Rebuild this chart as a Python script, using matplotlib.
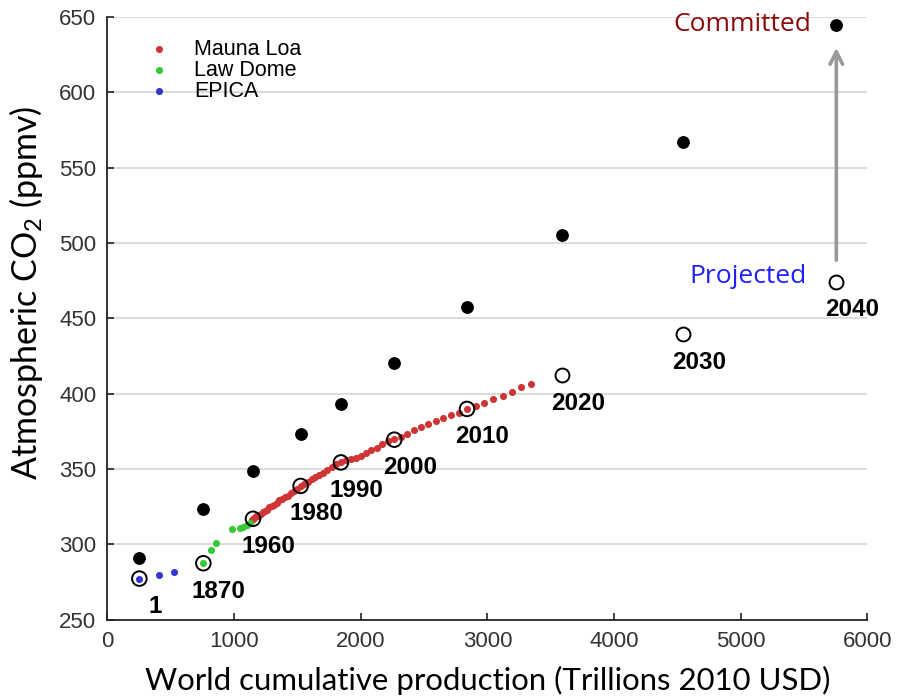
import matplotlib
matplotlib.use("Agg")
import matplotlib.pyplot as plt

# ---------------- data ----------------
# Mauna Loa (annual means) : cumulative production vs CO2
ml_years = list(range(1959, 2018))
ml_x = [1139, 1150, 1161.5, 1173.5, 1186.3, 1199.8, 1214.1, 1229.1, 1244.9, 1261.5,
        1279.0, 1297.5, 1317.0, 1337.5, 1359.0, 1380.8, 1402.8, 1425.8, 1449.8, 1474.8,
        1500.3, 1526.0, 1554.0, 1582.5, 1611.7, 1641.7, 1672.7, 1704.7, 1737.7, 1771.7,
        1807.2, 1844.0, 1881.5, 1920.0, 1959.5, 2000.0, 2041.5, 2084.0, 2127.5, 2172.0,
        2217.5, 2265.0, 2315.5, 2367.0, 2420.0, 2475.0, 2532.0, 2591.0, 2651.5, 2712.5,
        2772.5, 2839.0, 2907.0, 2976.5, 3047.5, 3120.0, 3194.0, 3269.0, 3344.0]
ml_co2 = [315.97, 316.91, 317.64, 318.45, 318.99, 319.62, 320.04, 321.38, 322.16, 323.04,
          324.62, 325.68, 326.32, 327.45, 329.68, 330.18, 331.11, 332.04, 333.83, 335.40,
          336.84, 338.75, 340.11, 341.45, 343.05, 344.65, 346.12, 347.42, 349.19, 351.57,
          353.12, 354.39, 355.61, 356.45, 357.10, 358.83, 360.82, 362.61, 363.73, 366.70,
          368.38, 369.55, 371.14, 373.28, 375.80, 377.52, 379.80, 381.90, 383.79, 385.60,
          387.43, 389.90, 391.65, 393.85, 396.52, 398.65, 400.83, 404.24, 406.55]

# Law Dome
ld_x = [758, 816, 858, 988, 1050, 1074, 1100, 1127]
ld_co2 = [287.4, 296.2, 300.9, 310.3, 310.5, 311.3, 312.8, 314.3]

# EPICA
ep_x = [253, 405, 524]
ep_co2 = [277.2, 279.4, 281.8]

# labelled historical years (open circles)
hist_labels = ["1", "1870", "1960", "1980", "1990", "2000", "2010"]
hist_x = [253, 758, 1150, 1526, 1844, 2265, 2839]
hist_co2 = [277.2, 287.4, 316.9, 338.7, 354.3, 369.4, 389.8]

# projected (open circles)
proj_labels = ["2020", "2030", "2040"]
proj_x = [3590, 4546, 5754]
proj_co2 = [412.3, 439.3, 474.3]

# committed (filled black)
comm_x = [253, 758, 1150, 1526, 1844, 2265, 2839, 3590, 4546, 5754]
comm_co2 = [291.1, 323.2, 348.8, 373.2, 393.3, 420.6, 457.3, 505.2, 566.8, 644.6]

x_ticks = [0, 1000, 2000, 3000, 4000, 5000, 6000]
y_ticks = [250, 300, 350, 400, 450, 500, 550, 600, 650]

# ---------------- figure ----------------
plt.rcParams['mathtext.fontset'] = 'custom'
plt.rcParams['mathtext.rm'] = 'Lato'
plt.rcParams['mathtext.it'] = 'Lato:italic'

fig = plt.figure(figsize=(9.01, 6.99), dpi=100)
ax = fig.add_axes([0.1191, 0.1136, 0.8437, 0.8623])

ax.set_xlim(0, 6000)
ax.set_ylim(250, 650)

for yv in y_ticks[1:]:
    ax.axhline(yv, color='#dcdcdc', lw=1.5, zorder=0)

red = '#d03535'
green = '#35c935'
blue = '#3535d0'

ax.scatter(comm_x, comm_co2, s=85, color='black', zorder=3, linewidths=0)
ax.scatter(ml_x, ml_co2, s=26, color=red, zorder=4, linewidths=0, label='Mauna Loa')
ax.scatter(ld_x, ld_co2, s=26, color=green, zorder=4, linewidths=0, label='Law Dome')
ax.scatter(ep_x, ep_co2, s=26, color=blue, zorder=4, linewidths=0, label='EPICA')
ax.scatter(hist_x, hist_co2, s=110, facecolors='none', edgecolors='black',
           linewidths=1.4, zorder=5)
ax.scatter(proj_x, proj_co2, s=100, facecolors='white', edgecolors='black',
           linewidths=1.4, zorder=5)

for lab, xv, yv in zip(hist_labels + proj_labels, hist_x + proj_x, hist_co2 + proj_co2):
    ax.annotate(lab, (xv, yv), xytext=(15.5, -28), textcoords='offset pixels',
                ha='center', va='center', fontsize=17.5, fontweight='bold',
                family='Liberation Sans', color='black', zorder=6)

# arrow projected -> committed
ax.annotate('', xy=(5754, 629.5), xytext=(5754, 488.5),
            arrowprops=dict(arrowstyle='->,head_length=0.9,head_width=0.45',
                            color='#999999', lw=2.6, shrinkA=0, shrinkB=0), zorder=2)

ax.text(5560, 644.6, 'Committed', ha='right', va='center', fontsize=19,
        family='Open Sans', color='#8b0a0a')
ax.text(5520, 478, 'Projected', ha='right', va='center', fontsize=19,
        family='Open Sans', color='#1f1fff')

leg = ax.legend(loc='upper left', bbox_to_anchor=(0.043, 0.978), frameon=False,
                prop={'family': 'Liberation Sans', 'size': 15.5},
                handletextpad=1.1, labelspacing=0.0, handlelength=1.0,
                scatterpoints=1, borderaxespad=0)
for h in leg.legend_handles:
    h.set_sizes([26])

ax.spines['top'].set_visible(False)
ax.spines['right'].set_visible(False)
for s in ['left', 'bottom']:
    ax.spines[s].set_linewidth(1.3)
    ax.spines[s].set_color('#222222')

ax.set_xticks(x_ticks)
ax.set_yticks(y_ticks)
ax.tick_params(direction='in', length=5, width=1.2, color='#222222',
               labelsize=16, labelcolor='#333333', pad=8)
for lab in ax.get_xticklabels() + ax.get_yticklabels():
    lab.set_family('Liberation Sans')

ax.set_xlabel('World cumulative production (Trillions 2010 USD)', fontsize=22.4,
              family='Lato', labelpad=10)
ax.set_ylabel('Atmospheric CO$_2$ (ppmv)', fontsize=24.5, family='Lato')
ax.yaxis.set_label_coords(-0.082, 0.542)

fig.savefig('out.png', dpi=100)
